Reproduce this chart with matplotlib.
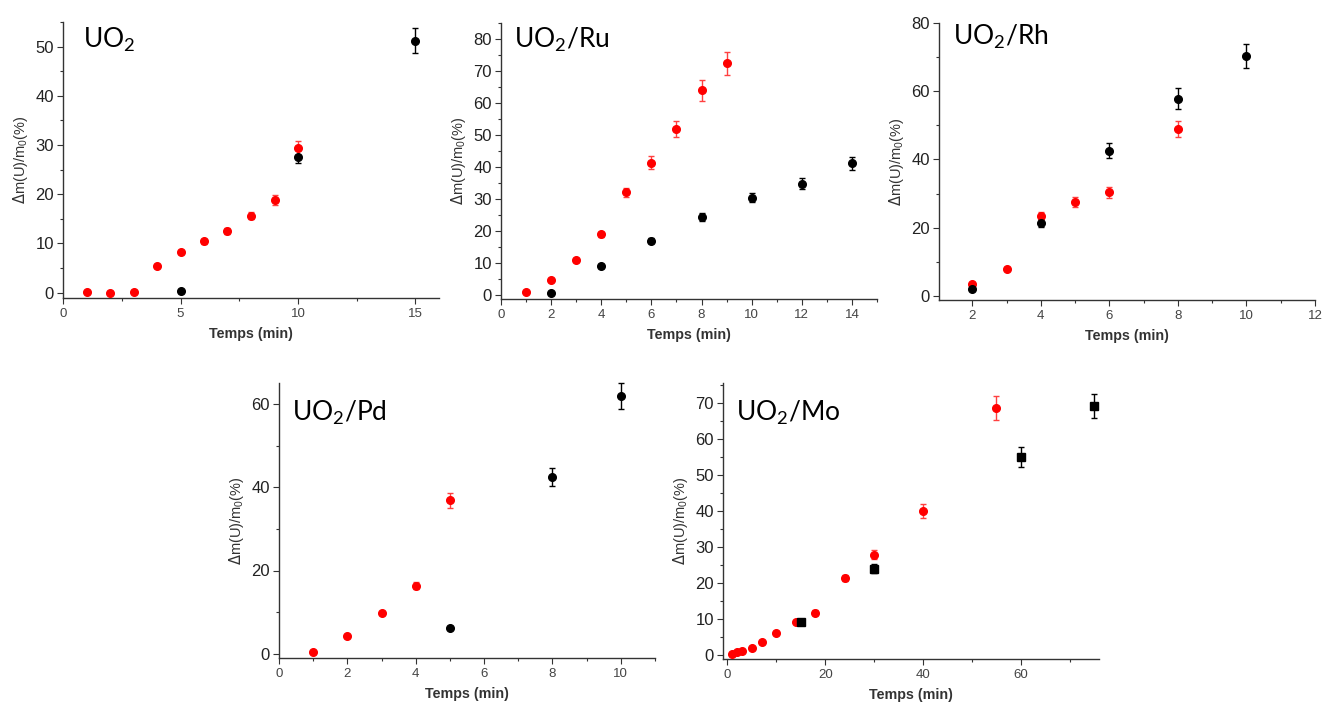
import matplotlib.pyplot as plt
from matplotlib.ticker import MultipleLocator

plt.rcParams['font.family'] = ['Liberation Sans', 'DejaVu Sans']

# UO2
uo2_red_t = [1, 2, 3, 4, 5, 6, 7, 8, 9, 10]
uo2_red_y = [0.2, 0.0, 0.2, 5.4, 8.2, 10.4, 12.6, 15.6, 18.8, 29.4]
uo2_red_e = [0.3, 0.3, 0.3, 0.4, 0.4, 0.5, 0.6, 0.7, 1.0, 1.5]
uo2_blk_t = [5, 10, 15]
uo2_blk_y = [0.3, 27.6, 51.2]
uo2_blk_e = [0.3, 1.3, 2.5]

# UO2/Ru
ru_red_t = [1, 2, 3, 4, 5, 6, 7, 8, 9]
ru_red_y = [1.1, 4.8, 11.0, 19.0, 32.1, 41.4, 51.9, 64.0, 72.4]
ru_red_e = [0.3, 0.4, 0.6, 0.8, 1.5, 2.1, 2.6, 3.3, 3.5]
ru_blk_t = [2, 4, 6, 8, 10, 12, 14]
ru_blk_y = [0.8, 9.2, 17.0, 24.4, 30.5, 34.9, 41.2]
ru_blk_e = [0.3, 0.6, 0.8, 1.2, 1.5, 1.8, 2.0]

# UO2/Rh
rh_red_t = [2, 3, 4, 5, 6, 8]
rh_red_y = [3.4, 8.0, 23.4, 27.5, 30.4, 48.9]
rh_red_e = [0.4, 0.5, 1.1, 1.4, 1.6, 2.4]
rh_blk_t = [2, 4, 6, 8, 10]
rh_blk_y = [2.0, 21.3, 42.6, 57.8, 70.2]
rh_blk_e = [0.3, 1.2, 2.1, 3.0, 3.5]

# UO2/Pd
pd_red_t = [1, 2, 3, 4, 5]
pd_red_y = [0.5, 4.2, 9.9, 16.4, 36.9]
pd_red_e = [0.3, 0.4, 0.5, 0.8, 1.8]
pd_blk_t = [5, 8, 10]
pd_blk_y = [6.3, 42.5, 61.9]
pd_blk_e = [0.4, 2.2, 3.1]

# UO2/Mo
mo_red_t = [1, 2, 3, 5, 7, 10, 14, 18, 24, 30, 40, 55]
mo_red_y = [0.1, 0.7, 1.0, 1.8, 3.4, 6.1, 9.2, 11.7, 21.3, 27.8, 40.0, 68.5]
mo_red_e = [0.2, 0.2, 0.2, 0.3, 0.3, 0.4, 0.5, 0.6, 0.9, 1.3, 2.0, 3.4]
mo_blk_t = [15, 30, 60, 75]
mo_blk_y = [9.0, 23.9, 54.9, 69.2]
mo_blk_e = [0.5, 1.2, 2.7, 3.3]

W, H = 1323, 704
fig = plt.figure(figsize=(W / 100, H / 100), dpi=100)


def px_axes(left, top, right, bottom):
    return fig.add_axes([left / W, 1 - bottom / H, (right - left) / W, (bottom - top) / H])


def style(ax, xlim, ylim, xmaj, xmin, ymaj, ymin):
    ax.set_xlim(*xlim)
    ax.set_ylim(*ylim)
    ax.xaxis.set_major_locator(MultipleLocator(xmaj))
    ax.xaxis.set_minor_locator(MultipleLocator(xmin))
    ax.yaxis.set_major_locator(MultipleLocator(ymaj))
    ax.yaxis.set_minor_locator(MultipleLocator(ymin))
    for s in ['top', 'right']:
        ax.spines[s].set_visible(False)
    for s in ['left', 'bottom']:
        ax.spines[s].set_color('#333333')
        ax.spines[s].set_linewidth(1.0)
    ax.tick_params(which='major', direction='out', length=4.5, width=0.8, color='#333333')
    ax.tick_params(which='minor', direction='out', length=2.5, width=0.8, color='#333333')
    ax.tick_params(axis='y', labelsize=12, labelcolor='#222222', pad=2)
    ax.tick_params(axis='x', labelsize=9.5, labelcolor='#444444', pad=3)
    ax.set_xlabel('Temps (min)', fontsize=10.3, fontweight='bold', color='#333333', labelpad=5)
    ax.set_ylabel(r'$\Delta$m(U)/m$\mathregular{_0}$(%)', fontsize=10.5, color='#333333', labelpad=4)


def plot_series(ax, t, y, e, color, ecolor, marker='o'):
    ax.errorbar(t, y, yerr=e, fmt=marker, color=color, ecolor=ecolor, markersize=5.5,
                elinewidth=1, capsize=2.5, capthick=1, clip_on=False, zorder=3)


def title(x, y, s):
    fig.text(x / W, 1 - y / H, s, fontsize=19, family=['Lato', 'DejaVu Sans'],
             va='baseline', ha='left', color='black')


ax1 = px_axes(63, 22, 439, 298)
plot_series(ax1, uo2_red_t, uo2_red_y, uo2_red_e, '#ff0000', '#ff4040')
plot_series(ax1, uo2_blk_t, uo2_blk_y, uo2_blk_e, 'black', 'black')
style(ax1, (0, 16), (-1.1, 55), 5, 2.5, 10, 5)
title(83, 48, r'UO$\mathregular{_2}$')

ax2 = px_axes(501, 23, 877, 299)
plot_series(ax2, ru_red_t, ru_red_y, ru_red_e, '#ff0000', '#ff4040')
plot_series(ax2, ru_blk_t, ru_blk_y, ru_blk_e, 'black', 'black')
style(ax2, (0, 15), (-1.15, 85), 2, 1, 10, 5)
title(514, 48, r'UO$\mathregular{_2}$/Ru')

ax3 = px_axes(939, 23, 1315, 300)
plot_series(ax3, rh_red_t, rh_red_y, rh_red_e, '#ff0000', '#ff4040')
plot_series(ax3, rh_blk_t, rh_blk_y, rh_blk_e, 'black', 'black')
style(ax3, (1.03, 12), (-1.2, 80), 2, 1, 20, 10)
title(953, 45, r'UO$\mathregular{_2}$/Rh')

ax4 = px_axes(279, 383, 655, 658)
plot_series(ax4, pd_red_t, pd_red_y, pd_red_e, '#ff0000', '#ff4040')
plot_series(ax4, pd_blk_t, pd_blk_y, pd_blk_e, 'black', 'black')
style(ax4, (0, 11), (-1.0, 65), 2, 1, 20, 10)
title(292, 421, r'UO$\mathregular{_2}$/Pd')

ax5 = px_axes(723, 383, 1099, 659)
plot_series(ax5, mo_red_t, mo_red_y, mo_red_e, '#ff0000', '#ff4040')
plot_series(ax5, mo_blk_t, mo_blk_y, mo_blk_e, 'black', 'black', marker='s')
style(ax5, (-0.9, 76), (-1.2, 75.5), 20, 10, 10, 5)
title(736, 421, r'UO$\mathregular{_2}$/Mo')

fig.savefig('out.png', dpi=100)
